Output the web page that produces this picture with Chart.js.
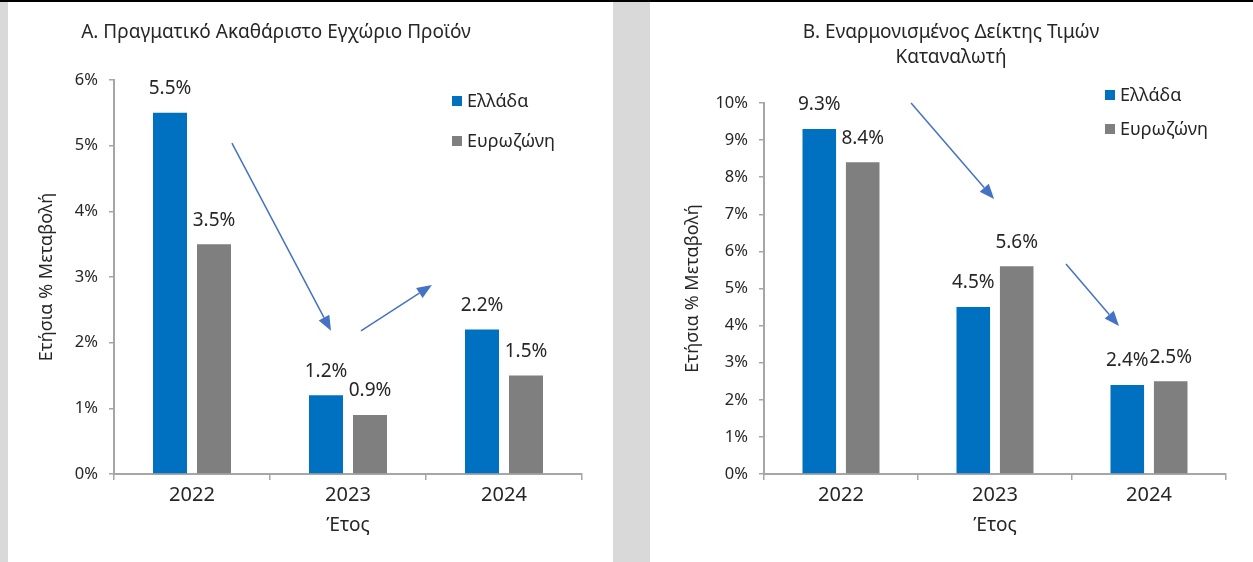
<!DOCTYPE html>
<html>
<head>
<meta charset="utf-8">
<script src="https://cdn.jsdelivr.net/npm/chart.js@4/dist/chart.umd.min.js"></script>
<style>
    body { margin: 0; width: 1253px; height: 562px; background: #d9d9d9; position: relative; overflow: hidden; }
    #topbar { position: absolute; left: 0; top: 0; width: 1253px; height: 2px; background: #000; }
    .panel { position: absolute; top: 2px; background: #fff; }
    #p1 { left: 8px; width: 605px; height: 560px; }
    #p2 { left: 650px; width: 603px; height: 560px; }
    canvas { display: block; }
</style>
</head>
<body>
<div id="topbar"></div>
<div class="panel" id="p1"><canvas id="chart-gdp" width="605" height="560"></canvas></div>
<div class="panel" id="p2"><canvas id="chart-hicp" width="603" height="560"></canvas></div>

<script>
// Dados dos graficos
var years = ['2022', '2023', '2024'];
var seriesNames = ['Ελλάδα', 'Ευρωζώνη'];
var gdpGreece = [5.5, 1.2, 2.2];
var gdpEuro = [3.5, 0.9, 1.5];
var hicpGreece = [9.3, 4.5, 2.4];
var hicpEuro = [8.4, 5.6, 2.5];
var gdpMax = 6;
var hicpMax = 10;

var BLUE = '#0070c0';
var GREY = '#7f7f7f';
var TEXT = '#262626';
var AXIS = '#a6a6a6';
var ARROW = '#4472c4';

Chart.defaults.font.family = '"Noto Sans", sans-serif';
Chart.defaults.color = TEXT;

// titulo desenhado numa posicao fixa
var panelTitle = {
    id: 'panelTitle',
    afterDraw: function(chart, args, opts) {
        var ctx = chart.ctx;
        ctx.save();
        ctx.font = opts.size + 'px "Noto Sans", sans-serif';
        ctx.fillStyle = TEXT;
        ctx.textAlign = 'center';
        ctx.textBaseline = 'middle';
        opts.lines.forEach(function(line, i) {
            ctx.fillText(line, opts.x, opts.y + i * opts.lineGap);
        });
        ctx.restore();
    }
};

// rotulos de valor acima das barras
var barLabels = {
    id: 'barLabels',
    afterDatasetsDraw: function(chart) {
        var ctx = chart.ctx;
        ctx.save();
        ctx.font = '19px "Noto Sans", sans-serif';
        ctx.fillStyle = TEXT;
        ctx.textAlign = 'center';
        ctx.textBaseline = 'middle';
        chart.data.datasets.forEach(function(ds, i) {
            chart.getDatasetMeta(i).data.forEach(function(bar, j) {
                ctx.fillText(ds.data[j].toFixed(1) + '%', bar.x, bar.y - 24);
            });
        });
        ctx.restore();
    }
};

// setas, coordenadas em unidades das escalas
var arrows = {
    id: 'arrows',
    afterDatasetsDraw: function(chart, args, opts) {
        var ctx = chart.ctx, sx = chart.scales.x, sy = chart.scales.y;
        ctx.save();
        ctx.strokeStyle = ARROW;
        ctx.fillStyle = ARROW;
        ctx.lineWidth = 1.5;
        opts.list.forEach(function(a) {
            var x1 = sx.getPixelForValue(a.from[0]), y1 = sy.getPixelForValue(a.from[1]);
            var x2 = sx.getPixelForValue(a.to[0]), y2 = sy.getPixelForValue(a.to[1]);
            var ang = Math.atan2(y2 - y1, x2 - x1);
            var len = 15, half = 6;
            var bx = x2 - len * Math.cos(ang), by = y2 - len * Math.sin(ang);
            ctx.beginPath();
            ctx.moveTo(x1, y1);
            ctx.lineTo(bx, by);
            ctx.stroke();
            ctx.beginPath();
            ctx.moveTo(x2, y2);
            ctx.lineTo(bx + half * Math.sin(ang), by - half * Math.cos(ang));
            ctx.lineTo(bx - half * Math.sin(ang), by + half * Math.cos(ang));
            ctx.closePath();
            ctx.fill();
        });
        ctx.restore();
    }
};

// legenda vertical simples
var boxLegend = {
    id: 'boxLegend',
    afterDraw: function(chart, args, opts) {
        var ctx = chart.ctx;
        ctx.save();
        ctx.font = '18px "Noto Sans", sans-serif';
        ctx.textBaseline = 'middle';
        ctx.textAlign = 'left';
        chart.data.datasets.forEach(function(ds, i) {
            var y = opts.y + i * opts.gap;
            ctx.fillStyle = ds.backgroundColor;
            ctx.fillRect(opts.x, y - 5, 10, 10);
            ctx.fillStyle = TEXT;
            ctx.fillText(ds.label, opts.x + 15, y + 1);
        });
        ctx.restore();
    }
};

function makeChart(canvasId, s) {
    return new Chart(document.getElementById(canvasId), {
        type: 'bar',
        data: {
            labels: years,
            datasets: [{
                label: seriesNames[0],
                data: s.greece,
                backgroundColor: BLUE,
                categoryPercentage: 0.564,
                barPercentage: 0.773
            }, {
                label: seriesNames[1],
                data: s.euro,
                backgroundColor: GREY,
                categoryPercentage: 0.564,
                barPercentage: 0.773
            }]
        },
        plugins: [panelTitle, barLabels, arrows, boxLegend],
        options: {
            responsive: false,
            animation: false,
            layout: { padding: { left: 0, top: s.top, right: s.right, bottom: 0 } },
            plugins: {
                legend: { display: false },
                tooltip: { enabled: false },
                panelTitle: s.title,
                arrows: { list: s.arrows },
                boxLegend: s.legend
            },
            scales: {
                x: {
                    grid: { drawOnChartArea: false, tickLength: 6, color: AXIS, lineWidth: 1.5 },
                    border: { color: AXIS, width: 2 },
                    ticks: { color: TEXT, font: { size: 20 }, padding: 3 },
                    title: { display: true, text: 'Έτος', color: TEXT, font: { size: 19 }, padding: { top: 0, bottom: 25 } },
                    afterFit: function(scale) { scale.height = 88; }
                },
                y: {
                    min: 0,
                    max: s.max,
                    ticks: { stepSize: 1, color: TEXT, font: { size: 16.5 }, padding: 11, callback: function(v) { return v + '%'; } },
                    grid: { drawOnChartArea: false, tickLength: 5, color: AXIS, lineWidth: 1.5 },
                    border: { color: AXIS, width: 2 },
                    title: { display: true, text: 'Ετήσια % Μεταβολή', color: TEXT, font: { size: 18 }, padding: { top: s.ytitlePad, bottom: 0 } },
                    afterFit: function(scale) { scale.width = s.yWidth; }
                }
            }
        }
    });
}

document.addEventListener('DOMContentLoaded', function() {
    makeChart('chart-gdp', {
        greece: gdpGreece,
        euro: gdpEuro,
        max: gdpMax,
        top: 78,
        right: 31,
        yWidth: 106,
        ytitlePad: 28,
        title: { lines: ['Α. Πραγματικό Ακαθάριστο Εγχώριο Προϊόν'], x: 268, y: 31, lineGap: 25, size: 19 },
        legend: { x: 444, y: 99, gap: 40 },
        arrows: [
            { from: [0.256, 5.04], to: [0.891, 2.18] },
            { from: [1.083, 2.18], to: [1.538, 2.88] }
        ]
    });

    makeChart('chart-hicp', {
        greece: hicpGreece,
        euro: hicpEuro,
        max: hicpMax,
        top: 101,
        right: 27,
        yWidth: 114,
        ytitlePad: 32,
        title: { lines: ['Β. Εναρμονισμένος Δείκτης Τιμών', 'Καταναλωτή'], x: 301, y: 31, lineGap: 25, size: 19 },
        legend: { x: 455, y: 93, gap: 34 },
        arrows: [
            { from: [0.455, 10.0], to: [0.994, 7.41] },
            { from: [1.461, 5.66], to: [1.805, 3.99] }
        ]
    });
});
</script>
</body>
</html>
